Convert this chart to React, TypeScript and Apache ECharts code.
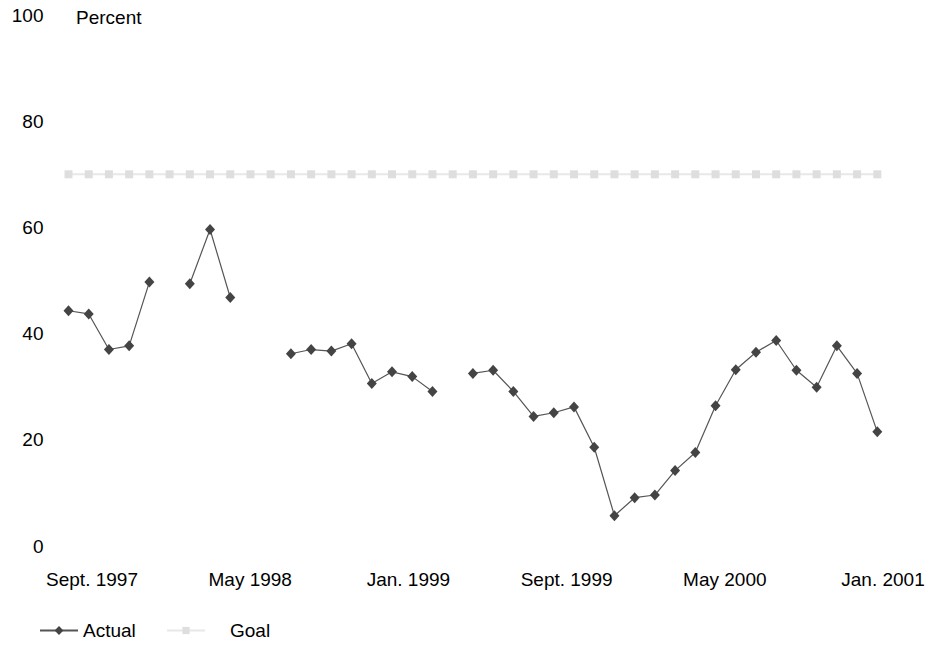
import React, { useEffect, useRef } from "react";
import * as echarts from "echarts";

const months: string[] = [
  "Sep 1997", "Oct 1997", "Nov 1997", "Dec 1997",
  "Jan 1998", "Feb 1998", "Mar 1998", "Apr 1998", "May 1998", "Jun 1998",
  "Jul 1998", "Aug 1998", "Sep 1998", "Oct 1998", "Nov 1998", "Dec 1998",
  "Jan 1999", "Feb 1999", "Mar 1999", "Apr 1999", "May 1999", "Jun 1999",
  "Jul 1999", "Aug 1999", "Sep 1999", "Oct 1999", "Nov 1999", "Dec 1999",
  "Jan 2000", "Feb 2000", "Mar 2000", "Apr 2000", "May 2000", "Jun 2000",
  "Jul 2000", "Aug 2000", "Sep 2000", "Oct 2000", "Nov 2000", "Dec 2000",
  "Jan 2001",
];

const actual: (number | null)[] = [
  44.3, 43.7, 37.0, 37.7,
  49.7, null, 49.4, 59.6, 46.8, null,
  null, 36.2, 37.0, 36.7, 38.1, 30.6,
  32.8, 31.9, 29.1, null, 32.5, 33.1,
  29.1, 24.4, 25.1, 26.2, 18.6, 5.7,
  9.1, 9.6, 14.2, 17.6, 26.4, 33.2,
  36.5, 38.7, 33.1, 29.9, 37.7, 32.5,
  21.5,
];

const goal: number[] = [
  70, 70, 70, 70, 70, 70, 70, 70, 70, 70,
  70, 70, 70, 70, 70, 70, 70, 70, 70, 70,
  70, 70, 70, 70, 70, 70, 70, 70, 70, 70,
  70, 70, 70, 70, 70, 70, 70, 70, 70, 70,
  70,
];

const tickLabels: string[] = [
  "Sept. 1997", "May 1998", "Jan. 1999", "Sept. 1999", "May 2000", "Jan. 2001",
];

const FONT = "'Liberation Sans', Arial, Helvetica, sans-serif";

export default function App() {
  const ref = useRef<HTMLDivElement>(null);

  useEffect(() => {
    if (!ref.current) return;
    const chart = echarts.init(ref.current, undefined, { renderer: "svg" });
    chart.setOption({
      animation: false,
      backgroundColor: "#ffffff",
      textStyle: { fontFamily: FONT },
      title: {
        text: "Percent",
        left: 76,
        top: 8,
        padding: 0,
        textStyle: { fontFamily: FONT, fontSize: 19, fontWeight: "normal", color: "#000" },
      },
      legend: [
        {
          data: ["Actual"],
          left: 39,
          top: 621,
          padding: 0,
          itemWidth: 38,
          itemHeight: 11,
          itemGap: 0,
          textStyle: { fontFamily: FONT, fontSize: 19, color: "#000" },
        },
        {
          data: ["Goal"],
          left: 166,
          top: 621,
          padding: 0,
          itemWidth: 38,
          itemHeight: 9,
          itemGap: 0,
          textStyle: { fontFamily: FONT, fontSize: 19, color: "#000", padding: [0, 0, 0, 20] },
        },
      ],
      grid: [
        { left: 68.5, right: 65.7, top: 15, bottom: 99 },
        { left: 92, right: 60, top: 15, bottom: 99 },
      ],
      xAxis: [
        {
          type: "category",
          gridIndex: 0,
          data: months,
          boundaryGap: false,
          axisLine: { show: false },
          axisTick: { show: false },
          axisLabel: { show: false },
          splitLine: { show: false },
        },
        {
          type: "category",
          gridIndex: 1,
          data: tickLabels,
          boundaryGap: false,
          axisLine: { show: false },
          axisTick: { show: false },
          splitLine: { show: false },
          axisLabel: {
            interval: 0,
            margin: 24,
            fontFamily: FONT,
            fontSize: 19,
            color: "#000",
          },
        },
      ],
      yAxis: [
        {
          type: "value",
          gridIndex: 0,
          min: 0,
          max: 100,
          interval: 20,
          axisLine: { show: false },
          axisTick: { show: false },
          splitLine: { show: false },
          axisLabel: { margin: 25, fontFamily: FONT, fontSize: 19, color: "#000" },
        },
        {
          type: "value",
          gridIndex: 1,
          min: 0,
          max: 100,
          show: false,
        },
      ],
      series: [
        {
          name: "Goal",
          type: "line",
          xAxisIndex: 0,
          yAxisIndex: 0,
          data: goal,
          symbol: "rect",
          symbolSize: 8,
          lineStyle: { color: "#e8e8e8", width: 2 },
          itemStyle: { color: "#dedede" },
          z: 1,
        },
        {
          name: "Actual",
          type: "line",
          xAxisIndex: 0,
          yAxisIndex: 0,
          data: actual,
          connectNulls: false,
          symbol: "diamond",
          symbolSize: [10, 11],
          lineStyle: { color: "#555555", width: 1.2 },
          itemStyle: { color: "#444444" },
          z: 2,
        },
      ],
    });
    return () => chart.dispose();
  }, []);

  return (
    <div
      ref={ref}
      style={{ position: "fixed", left: 0, top: 0, width: "943px", height: "645px" }}
    />
  );
}
